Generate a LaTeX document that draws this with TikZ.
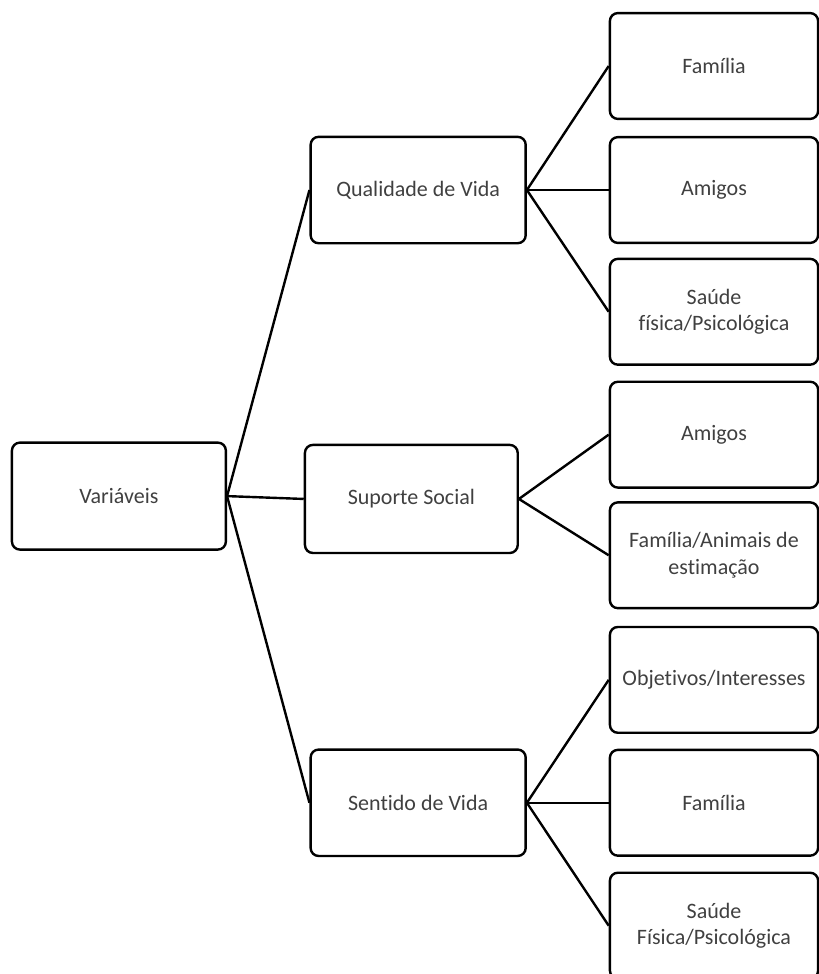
\documentclass[tikz,border=0pt]{standalone}
\usepackage{fontspec}
\setmainfont{Carlito}[Ligatures=NoCommon]
\usepackage{xcolor}
\usepackage{tikz}
\usetikzlibrary{positioning, shapes, backgrounds, arrows.meta, calc}
\definecolor{textgray}{RGB}{64, 64, 64}

\begin{document}
\begin{tikzpicture}[
  font=\fontsize{11}{13.4}\selectfont,
  branch/.style={draw, line width=1.2pt, rounded corners=1.4mm, align=center,
    text=textgray, minimum width=37.8mm, minimum height=18.7mm, inner sep=0pt},
  leaf/.style={branch, minimum width=36.6mm, minimum height=18.6mm},
  link/.style={line width=1.2pt}
]
  \useasboundingbox (0,0) rectangle (14.39,-17.12);

  \node[branch, minimum width=37.6mm, minimum height=18.8mm] (var) at (2.09,-8.72) {Variáveis};

  \node[branch] (qual) at (7.35,-3.34) {Qualidade de Vida};
  \node[branch, minimum width=37.4mm, minimum height=19mm] (supo) at (7.23,-8.77) {Suporte Social};
  \node[branch] (sent) at (7.35,-14.11) {Sentido de Vida};

  \node[leaf] (qfam) at (12.55,-1.16) {Família};
  \node[leaf] (qami) at (12.55,-3.34) {Amigos};
  \node[leaf] (qsau) at (12.55,-5.48) {Saúde\\física/Psicológica};
  \node[leaf] (sami) at (12.55,-7.64) {Amigos};
  \node[leaf] (sfam) at (12.55,-9.76) {Família/Animais de\\estimação};
  \node[leaf] (tobj) at (12.55,-11.95) {Objetivos/Interesses};
  \node[leaf] (tfam) at (12.55,-14.11) {Família};
  \node[leaf] (tsau) at (12.55,-16.27) {Saúde\\Física/Psicológica};

  \foreach \a in {qual,supo,sent}
    \draw[link] (var.east) -- (\a.west);
  \foreach \a in {qfam,qami,qsau}
    \draw[link] (qual.east) -- (\a.west);
  \foreach \a in {sami,sfam}
    \draw[link] (supo.east) -- (\a.west);
  \foreach \a in {tobj,tfam,tsau}
    \draw[link] (sent.east) -- (\a.west);
\end{tikzpicture}
\end{document}
